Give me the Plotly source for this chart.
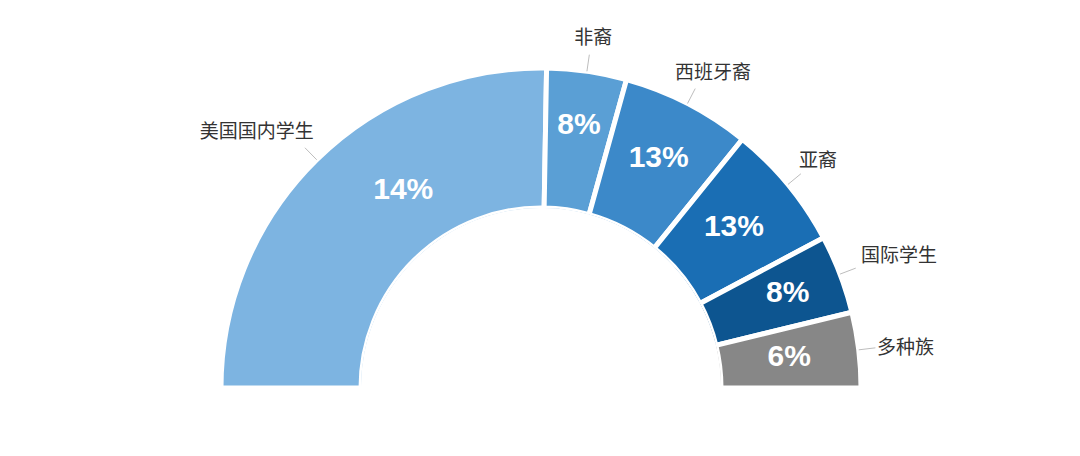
import plotly.graph_objects as go

# segment data (angles in degrees, clockwise from the left end)
groups = ["美国国内学生", "非裔", "西班牙裔", "亚裔", "国际学生", "多种族"]
pct_labels = ["14%", "8%", "13%", "13%", "8%", "6%"]
spans = [91, 14.5, 23.5, 23, 14.3, 13.7]
colors = ["#7db4e1", "#5a9fd5", "#3c89c9", "#1a6eb4", "#0d5590", "#878787"]

# centre angle of each segment
centers = []
start = 0
for s in spans:
    centers.append(start + s / 2)
    start += s

# where the white percentage labels sit (first one is shifted off-centre in the source)
pct_theta = [55] + centers[1:]
pct_r = [0.43, 0.6, 0.55, 0.5, 0.6, 0.5]
# where the group names sit
name_theta = [48.3, 98.5, 118.7, 138.8, 157.7, 173.4]
name_r = [1.153, 1.235, 1.271, 1.164, 1.184, 1.13]
name_pos = ["middle left", "middle center", "middle center",
            "middle right", "middle right", "middle right"]

fig = go.Figure()

fig.add_trace(go.Barpolar(
    r=[1] * len(groups), theta=centers, width=spans, base=0,
    marker=dict(color=colors, line=dict(color="white", width=5)),
    hoverinfo="skip", showlegend=False,
))

# leader lines
for th in centers:
    fig.add_trace(go.Scatterpolar(
        r=[1.0, 1.12], theta=[th, th], mode="lines",
        line=dict(color="#bdbdbd", width=1), hoverinfo="skip", showlegend=False,
    ))

# category names
fig.add_trace(go.Scatterpolar(
    r=name_r, theta=name_theta, mode="text", text=groups,
    textposition=name_pos,
    textfont=dict(family="Noto Sans CJK SC", size=19, color="#333333"),
    cliponaxis=False, hoverinfo="skip", showlegend=False,
))

fig.add_trace(go.Scatterpolar(
    r=pct_r, theta=pct_theta, mode="text", text=pct_labels,
    textfont=dict(family="Liberation Sans", size=30, color="white", weight="bold"),
    cliponaxis=False, hoverinfo="skip", showlegend=False,
))

fig.update_layout(
    width=1080, height=456,
    margin=dict(l=0, r=0, t=0, b=0),
    paper_bgcolor="white",
    polar=dict(
        domain=dict(x=[0.15093, 0.83611], y=[0.16667, 0.97807]),
        sector=[0, 180],
        hole=0.48649,
        bgcolor="white",
        angularaxis=dict(rotation=180, direction="clockwise", visible=False,
                         showgrid=False),
        radialaxis=dict(range=[0, 1.357], visible=False, showgrid=False),
    ),
)

fig.write_html("out.html")
